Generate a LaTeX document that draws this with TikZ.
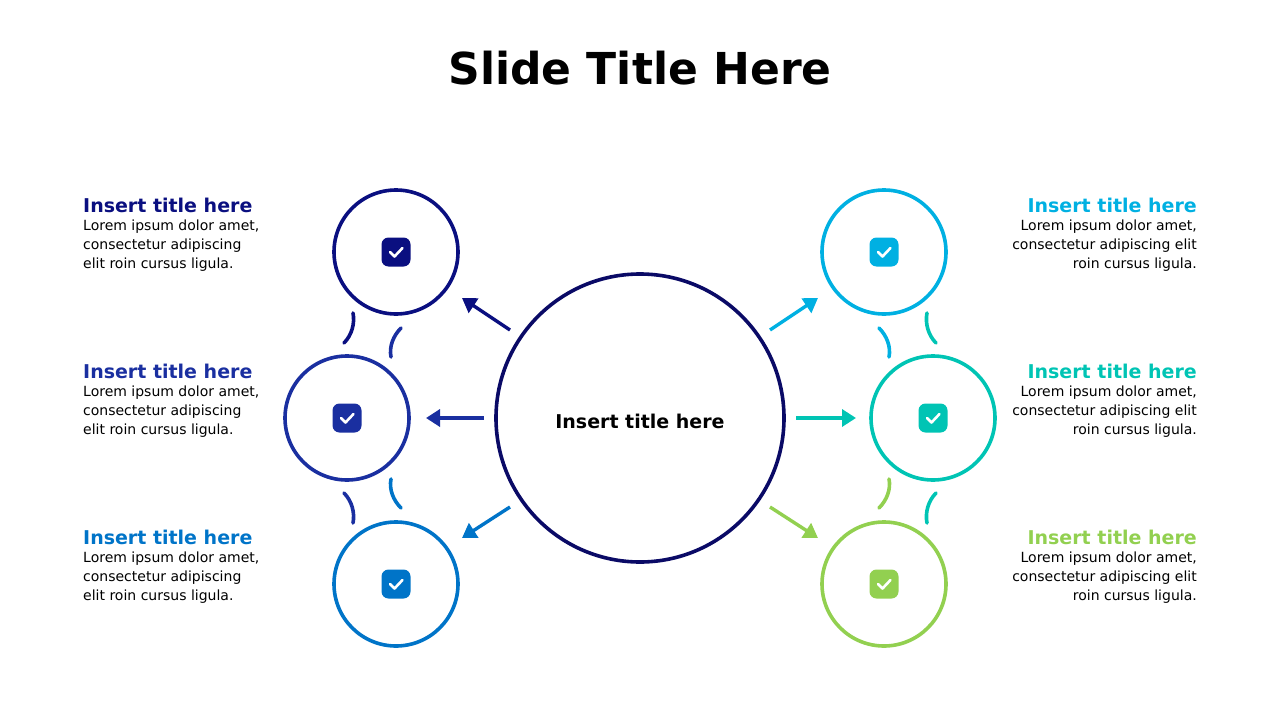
\documentclass[tikz,border=0pt]{standalone}
\usepackage{fontspec}
\setmainfont{DejaVu Sans}
\usetikzlibrary{arrows.meta,calc}
\definecolor{ca}{HTML}{0A0F80}
\definecolor{cb}{HTML}{1A2FA0}
\definecolor{cc}{HTML}{0074C8}
\definecolor{cm}{HTML}{0A0A66}
\definecolor{cd}{HTML}{00B0E2}
\definecolor{ce}{HTML}{00C4B4}
\definecolor{cf}{HTML}{92D050}
\tikzset{x=1pt,y=-1pt,
 ring/.style={draw=#1,line width=3.6pt,circle,minimum size=124pt,inner sep=0pt},
 chk/.style={fill=#1,rounded corners=7pt,minimum size=29pt,inner sep=0pt},
 arr/.style={draw=#1,line width=3.4pt,-{Triangle[length=14pt,width=17pt]}},
 lnk/.style={draw=#1,line width=3.6pt,line cap=round},
 ttl/.style={font=\bfseries\fontsize{19}{24}\selectfont,text=#1,inner sep=0pt},
 bodyL/.style={font=\fontsize{14}{19}\selectfont,align=left,inner sep=0pt,anchor=north west},
 bodyR/.style={font=\fontsize{14}{19}\selectfont,align=right,inner sep=0pt,anchor=north east}}
\newcommand{\tick}[2]{\node[chk=#2] (#1) at (#1c) {}; \draw[white,line width=2.6pt,line cap=round,line join=round] ($(#1c)+(-6,0)$) -- ($(#1c)+(-1.5,4.5)$) -- ($(#1c)+(6.5,-4)$);}
\begin{document}
\begin{tikzpicture}
\useasboundingbox (0,0) rectangle (1280,720);
\node[font=\bfseries\fontsize{44}{50}\selectfont] (T) at (640,68) {Slide Title Here};
\node[ring=cm,minimum size=288pt] (M) at (640,418) {};
\node[font=\bfseries\fontsize{19}{24}\selectfont] (Mt) at (640,421) {Insert title here};
\coordinate (Ac) at (396,252); \coordinate (Bc) at (347,418); \coordinate (Cc) at (396,584);
\coordinate (Dc) at (884,252); \coordinate (Ec) at (933,418); \coordinate (Fc) at (884,584);
\node[ring=ca] (A) at (Ac) {}; \node[ring=cb] (B) at (Bc) {}; \node[ring=cc] (C) at (Cc) {};
\node[ring=cd] (D) at (Dc) {}; \node[ring=ce] (E) at (Ec) {}; \node[ring=cf] (F) at (Fc) {};
\tick{A}{ca}\tick{B}{cb}\tick{C}{cc}\tick{D}{cd}\tick{E}{ce}\tick{F}{cf}
\coordinate (a1) at (510,330); \coordinate (a2) at (462,298);
\coordinate (b1) at (484,418); \coordinate (b2) at (426,418);
\coordinate (c1) at (510,507); \coordinate (c2) at (462,538);
\coordinate (d1) at (770,330); \coordinate (d2) at (818,298);
\coordinate (e1) at (796,418); \coordinate (e2) at (856,418);
\coordinate (f1) at (770,507); \coordinate (f2) at (818,538);
\draw[arr=ca] (a1)--(a2); \draw[arr=cb] (b1)--(b2); \draw[arr=cc] (c1)--(c2);
\draw[arr=cd] (d1)--(d2); \draw[arr=ce] (e1)--(e2); \draw[arr=cf] (f1)--(f2);
\draw[lnk=ca] (353,313) .. controls (355,323) and (352,335) .. (344,343);
\draw[lnk=cb] (401,328) .. controls (393,336) and (389,347) .. (391,357);
\draw[lnk=cb] (344,493) .. controls (352,501) and (355,513) .. (353,523);
\draw[lnk=cc] (391,479) .. controls (389,489) and (393,500) .. (401,508);
\draw[lnk=cd] (879,328) .. controls (887,336) and (891,347) .. (889,357);
\draw[lnk=ce] (927,313) .. controls (925,323) and (928,335) .. (936,343);
\draw[lnk=ce] (936,493) .. controls (928,501) and (925,513) .. (927,523);
\draw[lnk=cf] (889,479) .. controls (891,489) and (887,500) .. (879,508);
\node[ttl=ca,anchor=west] (t1) at (83,205) {Insert title here};
\node[bodyL] (l1) at (83,220) {Lorem ipsum dolor amet,\\consectetur adipiscing\\elit roin cursus ligula.};
\node[ttl=cb,anchor=west] (t2) at (83,371) {Insert title here};
\node[bodyL] (l2) at (83,386) {Lorem ipsum dolor amet,\\consectetur adipiscing\\elit roin cursus ligula.};
\node[ttl=cc,anchor=west] (t3) at (83,537) {Insert title here};
\node[bodyL] (l3) at (83,552) {Lorem ipsum dolor amet,\\consectetur adipiscing\\elit roin cursus ligula.};
\node[ttl=cd,anchor=east] (t4) at (1197,205) {Insert title here};
\node[bodyR] (r1) at (1197,220) {Lorem ipsum dolor amet,\\consectetur adipiscing elit\\roin cursus ligula.};
\node[ttl=ce,anchor=east] (t5) at (1197,371) {Insert title here};
\node[bodyR] (r2) at (1197,386) {Lorem ipsum dolor amet,\\consectetur adipiscing elit\\roin cursus ligula.};
\node[ttl=cf,anchor=east] (t6) at (1197,537) {Insert title here};
\node[bodyR] (r3) at (1197,552) {Lorem ipsum dolor amet,\\consectetur adipiscing elit\\roin cursus ligula.};
\end{tikzpicture}
\end{document}
